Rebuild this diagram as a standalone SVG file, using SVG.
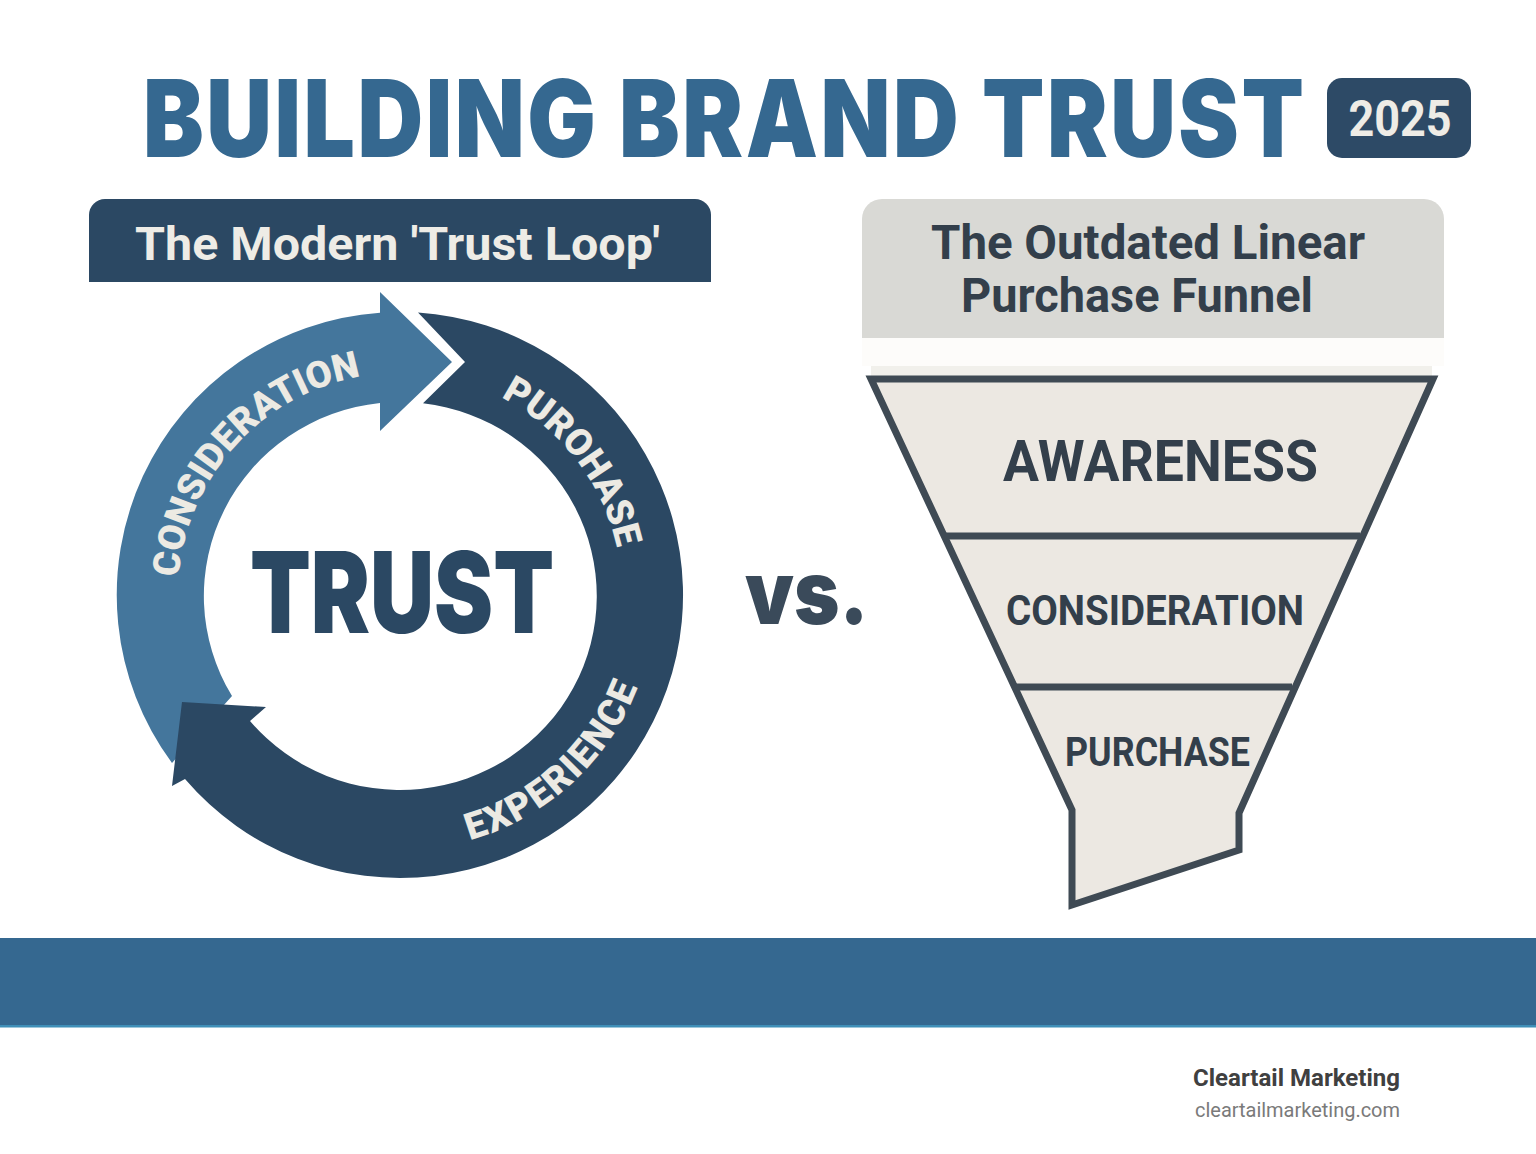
<svg xmlns="http://www.w3.org/2000/svg" width="1536" height="1154" viewBox="0 0 1536 1154">
<style>
text{font-family:Roboto,"Liberation Sans",sans-serif;font-weight:700}
.blk{font-family:Inter,Roboto,"Liberation Sans",sans-serif;font-weight:900}
.ring{fill:#eceae3;font-size:37.500px;font-weight:900;text-anchor:middle}
.dk{fill:#2b4863}
.lt{fill:#44769c}
.ink{fill:#333f4b}
.fun{fill:#ece8e2}
.ln{stroke:#3f4a54;stroke-width:7;fill:none;stroke-linejoin:miter}
</style>
<defs>
<path id="pC" d="M178 595 A222 222 0 0 1 622 595" transform="rotate(-47.800 400 595)"/>
<path id="pP" d="M178 595 A222 222 0 0 1 622 595" transform="rotate(52.400 400 595)"/>
<path id="pE" d="M145 595 A255 255 0 0 0 655 595" transform="rotate(-42.500 400 595)"/>
</defs>
<rect width="1536" height="1154" fill="#fff"/>
<g id="title">
<text transform="translate(143 157) scale(.85 1)" font-size="107" class="blk" fill="#356890" letter-spacing="3">BUILDING BRAND TRUST</text>
</g>
<g id="badge">
<rect x="1327" y="78" width="144" height="80" rx="15" fill="#2d4a66"/>
<text transform="translate(1400 136) scale(.9 1)" font-size="50" fill="#eeece6" text-anchor="middle">2025</text>
</g>
<g id="loop-header">
<path d="M89 282V215a16 16 0 0 1 16-16H695a16 16 0 0 1 16 16V282Z" class="dk"/>
<text x="135" y="260" font-size="46" fill="#eeece6" textLength="525" lengthAdjust="spacingAndGlyphs">The Modern 'Trust Loop'</text>
</g>
<g id="funnel-header">
<path d="M862 338V219a20 20 0 0 1 20-20H1424a20 20 0 0 1 20 20V338Z" fill="#d9d9d5"/>
<rect x="862" y="338" width="582" height="28" fill="#fdfcfa"/>
<rect x="871" y="366" width="561" height="10" fill="#f1f0eb"/>
<text x="931" y="259" font-size="48" class="ink" textLength="434" lengthAdjust="spacingAndGlyphs">The Outdated Linear</text>
<text x="961" y="312" font-size="48" class="ink" textLength="352" lengthAdjust="spacingAndGlyphs">Purchase Funnel</text>
</g>
<g id="connectors">
<path id="arc-consideration" class="lt" d="M172 763 A283 283 0 0 1 380 312.700 L380 292 L452 362 L380 431 L380 403 A196.500 194 0 0 0 232 696Z"/>
<path id="arc-purchase-experience" class="dk" d="M418 312.600 A283 283 0 1 1 185 779 L172 786 L182 702 L266 707 L250 721 A196.500 194 0 1 0 423 403.300 L465 362Z"/>
</g>
<g id="trust">
<text transform="translate(402 633) scale(.785 1)" font-size="113" class="blk dk" text-anchor="middle">TRUST</text>
</g>
<g id="label-consideration"><text class="ring"><textPath href="#pC" startOffset="50%">CONSIDERATION</textPath></text></g>
<g id="label-purchase"><text class="ring"><textPath href="#pP" startOffset="50%">PUROHASE</textPath></text></g>
<g id="label-experience"><text class="ring" letter-spacing="1.800"><textPath href="#pE" startOffset="50%">EXPERIENCE</textPath></text></g>
<g id="versus">
<text transform="translate(745 624) scale(.88 1)" font-size="88" class="blk" fill="#3a4a5a">vs.</text>
</g>
<g id="funnel">
<path class="fun" d="M871 379H1433L1239 813V850L1072 905V810Z"/>
<path class="ln" d="M871 379H1433L1239 813V850L1072 905V810Z"/>
<path class="ln" d="M945 536H1360M1015 687H1292"/>
</g>
<g id="awareness"><text x="1003" y="481" font-size="58" class="ink" textLength="315" lengthAdjust="spacingAndGlyphs">AWARENESS</text></g>
<g id="consideration"><text x="1006" y="625" font-size="43" class="ink" textLength="298" lengthAdjust="spacingAndGlyphs">CONSIDERATION</text></g>
<g id="purchase"><text x="1065" y="766" font-size="40" class="ink" textLength="185" lengthAdjust="spacingAndGlyphs">PURCHASE</text></g>
<g id="band">
<rect y="938" width="1536" height="87" fill="#356890"/>
<rect y="1025" width="1536" height="2.500" fill="#3f8fb8"/>
</g>
<g id="footer">
<text x="1193" y="1086" font-size="24" fill="#404040" textLength="207" lengthAdjust="spacingAndGlyphs">Cleartail Marketing</text>
<text x="1195" y="1117" font-size="21" fill="#7a7a7a" style="font-weight:400" textLength="205" lengthAdjust="spacingAndGlyphs">cleartailmarketing.com</text>
</g>
</svg>
